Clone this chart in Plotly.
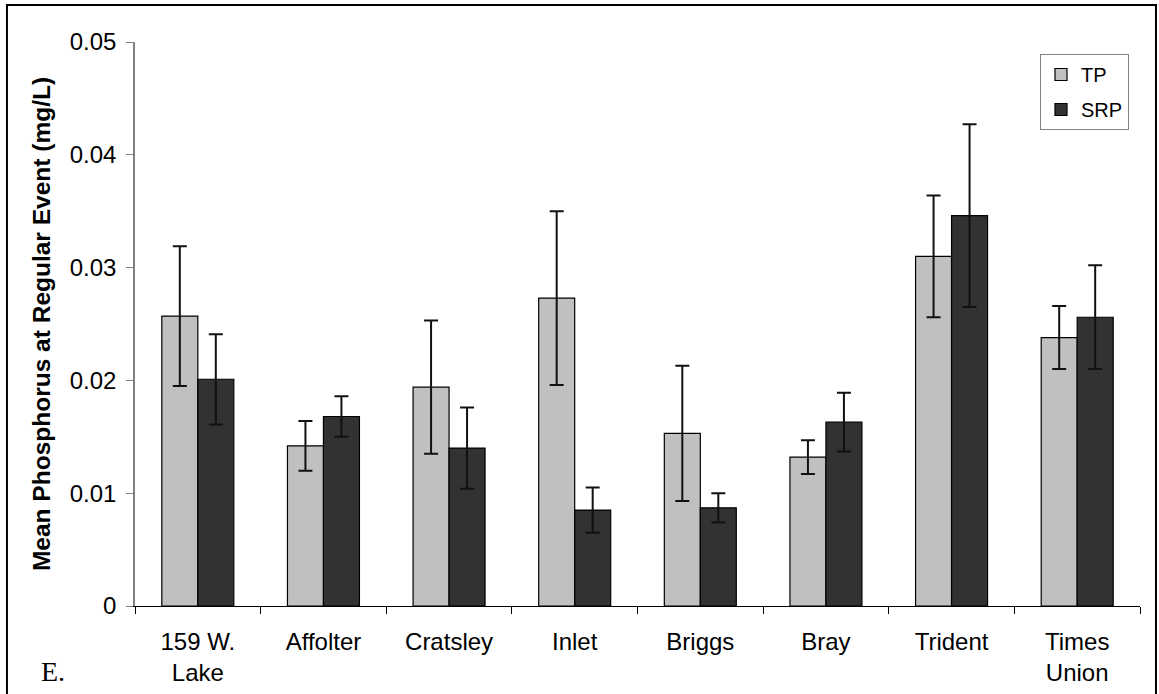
import plotly.graph_objects as go

categories = ["159 W.<br>Lake", "Affolter", "Cratsley", "Inlet", "Briggs", "Bray", "Trident", "Times<br>Union"]
tp_values = [0.0257, 0.0142, 0.0194, 0.0273, 0.0153, 0.0132, 0.0310, 0.0238]
tp_errors = [0.0062, 0.0022, 0.0059, 0.0077, 0.0060, 0.0015, 0.0054, 0.0028]
srp_values = [0.0201, 0.0168, 0.0140, 0.0085, 0.0087, 0.0163, 0.0346, 0.0256]
srp_errors = [0.0040, 0.0018, 0.0036, 0.0020, 0.0013, 0.0026, 0.0081, 0.0046]
y_ticks = [0, 0.01, 0.02, 0.03, 0.04, 0.05]
y_tick_labels = ["0", "0.01", "0.02", "0.03", "0.04", "0.05"]

font_family = "Liberation Sans, Arial, sans-serif"

fig = go.Figure()
fig.add_trace(go.Bar(
    name="TP", x=categories, y=tp_values, legendgroup="tp",
    marker=dict(color="#c0c0c0", line=dict(color="#000000", width=1.2)),
    error_y=dict(type="data", array=tp_errors, visible=True, color="#111111", thickness=2, width=7),
))
fig.add_trace(go.Bar(
    name="SRP", x=categories, y=srp_values, legendgroup="srp",
    marker=dict(color="#323232", line=dict(color="#000000", width=1.2)),
    error_y=dict(type="data", array=srp_errors, visible=True, color="#111111", thickness=2, width=7),
))

fig.update_layout(
    width=1159, height=694,
    margin=dict(l=135, r=19, t=42, b=88),
    paper_bgcolor="white", plot_bgcolor="white",
    barmode="group", bargap=0.427, bargroupgap=0,
    font=dict(family=font_family, size=24, color="#000000"),
    showlegend=True,
    legend=dict(
        x=0.9005, y=0.9787, xanchor="left", yanchor="top",
        bordercolor="#808080", borderwidth=1, bgcolor="white",
        font=dict(size=20, family=font_family), tracegroupgap=6,
    ),
    xaxis=dict(
        showline=True, linecolor="#000000", linewidth=1,
        ticks="outside", tickson="boundaries", ticklen=7, tickcolor="#000000",
        tickfont=dict(size=24), showgrid=False, zeroline=False,
        range=[-0.5, 7.5], ticklabelstandoff=14, automargin=False,
    ),
    yaxis=dict(
        range=[0, 0.05], tickvals=y_ticks, ticktext=y_tick_labels,
        showline=True, linecolor="#808080", linewidth=1.5,
        ticks="outside", ticklen=7, tickcolor="#808080",
        tickfont=dict(size=24), showgrid=False, zeroline=False, ticklabelstandoff=5,
        automargin=False,
        title=dict(text="<b>Mean Phosphorus at Regular Event (mg/L)</b>", font=dict(size=24.5), standoff=12),
    ),
)

# outer frame
fig.add_shape(type="rect", xref="paper", yref="paper",
              x0=-0.1274, x1=1.0159, y0=-0.18, y1=1.0656,
              line=dict(color="#000000", width=2), fillcolor="rgba(0,0,0,0)", layer="above")

fig.add_annotation(text="E.", xref="paper", yref="paper", x=-0.096, y=-0.117,
                   xanchor="left", yanchor="middle", showarrow=False,
                   font=dict(family="Liberation Serif, Times New Roman, serif", size=28, color="#000000"))

fig.write_html("out.html", config={"displayModeBar": False},
               post_script="document.body.style.margin='0';document.body.style.overflow='hidden';")
